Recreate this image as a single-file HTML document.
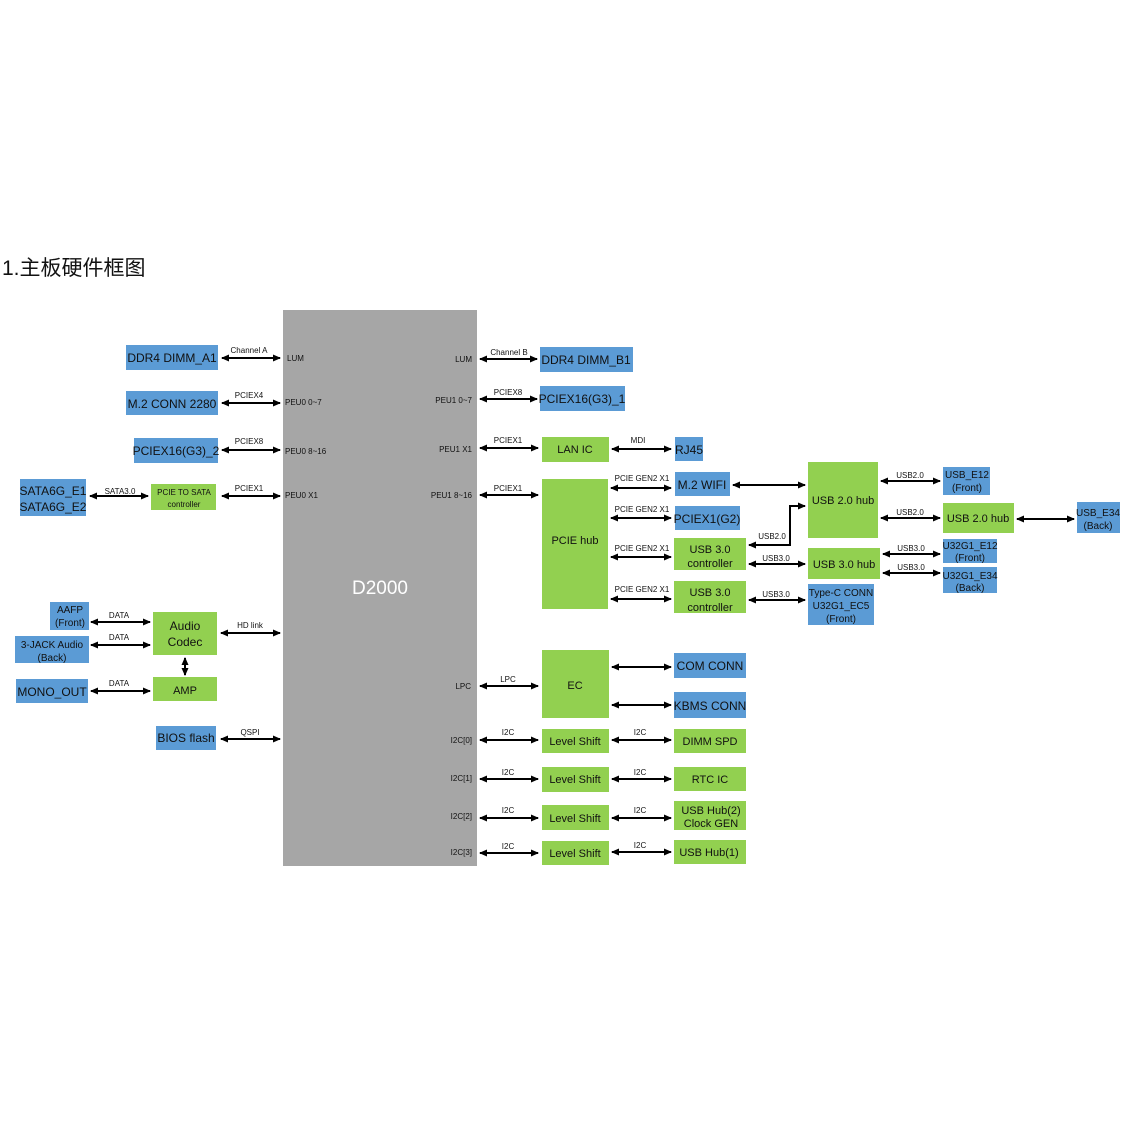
<!DOCTYPE html>
<html><head><meta charset="utf-8"><style>
html,body{margin:0;padding:0;background:#fff;width:1136px;height:1136px;overflow:hidden}
svg{display:block}
text{font-family:"Liberation Sans","Noto Sans CJK SC",sans-serif;fill:#111}
.b{fill:#5b9bd5}.g{fill:#92d050}
.l{stroke:#000;stroke-width:2;fill:none;marker-start:url(#ms);marker-end:url(#me)}
.s{font-size:8px}.m{font-size:12px}.t{font-size:11px}
</style></head><body>
<svg width="1136" height="1136" viewBox="0 0 1136 1136">
<defs>
<marker id="me" markerWidth="8" markerHeight="8" refX="7" refY="4" orient="auto" markerUnits="userSpaceOnUse"><path d="M0,0.5 L8,4 L0,7.5Z" fill="#000"/></marker>
<marker id="ms" markerWidth="8" markerHeight="8" refX="1" refY="4" orient="auto" markerUnits="userSpaceOnUse"><path d="M8,0.5 L0,4 L8,7.5Z" fill="#000"/></marker>
</defs>
<text x="2" y="275" style="font-size:21px">1.主板硬件框图</text>
<rect x="283" y="310" width="194" height="556" fill="#a6a6a6"/>
<text x="380" y="594" text-anchor="middle" style="font-size:19px;fill:#fff">D2000</text>
<g class="s">
<text x="287" y="361">LUM</text><text x="285" y="405">PEU0 0~7</text><text x="285" y="454">PEU0 8~16</text><text x="285" y="498">PEU0 X1</text>
<text x="472" y="362" text-anchor="end">LUM</text><text x="472" y="403" text-anchor="end">PEU1 0~7</text><text x="472" y="452" text-anchor="end">PEU1 X1</text><text x="472" y="498" text-anchor="end">PEU1 8~16</text>
<text x="471" y="689" text-anchor="end">LPC</text><text x="472" y="743" text-anchor="end">I2C[0]</text><text x="472" y="781" text-anchor="end">I2C[1]</text><text x="472" y="819" text-anchor="end">I2C[2]</text><text x="472" y="855" text-anchor="end">I2C[3]</text>
</g>
<!-- left boxes -->
<rect class="b" x="126" y="345" width="92" height="25"/><text class="m" x="172" y="362" text-anchor="middle">DDR4 DIMM_A1</text>
<rect class="b" x="126" y="391" width="92" height="24"/><text class="m" x="172" y="408" text-anchor="middle">M.2 CONN 2280</text>
<rect class="b" x="134" y="438" width="84" height="25"/><text class="m" x="176" y="455" text-anchor="middle">PCIEX16(G3)_2</text>
<rect class="b" x="20" y="479" width="66" height="37"/><text class="m" x="53" y="495" text-anchor="middle">SATA6G_E1</text><text class="m" x="53" y="511" text-anchor="middle">SATA6G_E2</text>
<rect class="g" x="151" y="484" width="65" height="26"/><text class="s" x="184" y="495" text-anchor="middle">PCIE TO SATA</text><text class="s" x="184" y="507" text-anchor="middle">controller</text>
<rect class="b" x="50" y="602" width="39" height="28"/><text class="t" x="70" y="613" text-anchor="middle" style="font-size:10px">AAFP</text><text x="70" y="626" text-anchor="middle" style="font-size:10px">(Front)</text>
<rect class="b" x="15" y="636" width="74" height="27"/><text x="52" y="648" text-anchor="middle" style="font-size:10px">3-JACK Audio</text><text x="52" y="661" text-anchor="middle" style="font-size:10px">(Back)</text>
<rect class="b" x="16" y="679" width="72" height="24"/><text class="m" x="52" y="696" text-anchor="middle">MONO_OUT</text>
<rect class="g" x="153" y="612" width="64" height="43"/><text class="m" x="185" y="630" text-anchor="middle">Audio</text><text class="m" x="185" y="646" text-anchor="middle">Codec</text>
<rect class="g" x="153" y="677" width="64" height="24"/><text class="t" x="185" y="694" text-anchor="middle">AMP</text>
<rect class="b" x="156" y="726" width="60" height="24"/><text class="m" x="186" y="742" text-anchor="middle">BIOS flash</text>
<!-- left arrows -->
<path class="l" d="M222,358 H280"/><text class="s" x="249" y="353" text-anchor="middle">Channel A</text>
<path class="l" d="M222,403 H280"/><text class="s" x="249" y="398" text-anchor="middle">PCIEX4</text>
<path class="l" d="M222,450 H280"/><text class="s" x="249" y="444" text-anchor="middle">PCIEX8</text>
<path class="l" d="M222,496 H280"/><text class="s" x="249" y="491" text-anchor="middle">PCIEX1</text>
<path class="l" d="M90,496 H148"/><text class="s" x="120" y="494" text-anchor="middle">SATA3.0</text>
<path class="l" d="M91,622 H150"/><text class="s" x="119" y="618" text-anchor="middle">DATA</text>
<path class="l" d="M91,645 H150"/><text class="s" x="119" y="640" text-anchor="middle">DATA</text>
<path class="l" d="M91,691 H150"/><text class="s" x="119" y="686" text-anchor="middle">DATA</text>
<path class="l" d="M185,658 V675"/>
<path class="l" d="M221,633 H280"/><text class="s" x="250" y="628" text-anchor="middle">HD link</text>
<path class="l" d="M221,739 H280"/><text class="s" x="250" y="735" text-anchor="middle">QSPI</text>
<!-- right of D2000 -->
<path class="l" d="M480,359 H537"/><text class="s" x="509" y="355" text-anchor="middle">Channel B</text>
<rect class="b" x="540" y="347" width="93" height="25"/><text class="m" x="586" y="364" text-anchor="middle">DDR4 DIMM_B1</text>
<path class="l" d="M480,399 H537"/><text class="s" x="508" y="395" text-anchor="middle">PCIEX8</text>
<rect class="b" x="540" y="386" width="85" height="25"/><text class="m" x="582" y="403" text-anchor="middle">PCIEX16(G3)_1</text>
<path class="l" d="M480,448 H538"/><text class="s" x="508" y="443" text-anchor="middle">PCIEX1</text>
<rect class="g" x="542" y="437" width="67" height="25"/><text class="t" x="575" y="453" text-anchor="middle">LAN IC</text>
<path class="l" d="M612,449 H671"/><text class="s" x="638" y="443" text-anchor="middle">MDI</text>
<rect class="b" x="675" y="437" width="28" height="24"/><text class="m" x="689" y="454" text-anchor="middle">RJ45</text>
<path class="l" d="M480,495 H538"/><text class="s" x="508" y="491" text-anchor="middle">PCIEX1</text>
<rect class="g" x="542" y="479" width="66" height="130"/><text class="t" x="575" y="544" text-anchor="middle">PCIE hub</text>
<g class="s">
<text x="642" y="481" text-anchor="middle">PCIE GEN2 X1</text><text x="642" y="512" text-anchor="middle">PCIE GEN2 X1</text>
<text x="642" y="551" text-anchor="middle">PCIE GEN2 X1</text><text x="642" y="592" text-anchor="middle">PCIE GEN2 X1</text>
</g>
<path class="l" d="M611,488 H671"/><path class="l" d="M611,518 H671"/><path class="l" d="M611,557 H671"/><path class="l" d="M611,599 H671"/>
<rect class="b" x="675" y="472" width="55" height="24"/><text class="m" x="702" y="489" text-anchor="middle">M.2 WIFI</text>
<rect class="b" x="675" y="506" width="65" height="24"/><text class="m" x="707" y="523" text-anchor="middle">PCIEX1(G2)</text>
<rect class="g" x="674" y="538" width="72" height="32"/><text class="t" x="710" y="553" text-anchor="middle">USB 3.0</text><text class="t" x="710" y="567" text-anchor="middle">controller</text>
<rect class="g" x="674" y="581" width="72" height="32"/><text class="t" x="710" y="596" text-anchor="middle">USB 3.0</text><text class="t" x="710" y="611" text-anchor="middle">controller</text>
<path class="l" d="M733,485 H805"/>
<path class="l" d="M749,545 H790 V506 H805"/><text class="s" x="772" y="539" text-anchor="middle">USB2.0</text>
<path class="l" d="M749,564 H805"/><text class="s" x="776" y="561" text-anchor="middle">USB3.0</text>
<path class="l" d="M749,600 H805"/><text class="s" x="776" y="597" text-anchor="middle">USB3.0</text>
<rect class="g" x="808" y="462" width="70" height="76"/><text class="t" x="843" y="504" text-anchor="middle">USB 2.0 hub</text>
<rect class="g" x="808" y="548" width="72" height="31"/><text class="t" x="844" y="568" text-anchor="middle">USB 3.0 hub</text>
<rect class="b" x="808" y="584" width="66" height="41"/><text x="841" y="596" text-anchor="middle" style="font-size:10px">Type-C CONN</text><text x="841" y="609" text-anchor="middle" style="font-size:10px">U32G1_EC5</text><text x="841" y="622" text-anchor="middle" style="font-size:10px">(Front)</text>
<path class="l" d="M881,481 H940"/><text class="s" x="910" y="478" text-anchor="middle">USB2.0</text>
<path class="l" d="M881,518 H940"/><text class="s" x="910" y="515" text-anchor="middle">USB2.0</text>
<path class="l" d="M883,554 H940"/><text class="s" x="911" y="551" text-anchor="middle">USB3.0</text>
<path class="l" d="M883,573 H940"/><text class="s" x="911" y="570" text-anchor="middle">USB3.0</text>
<rect class="b" x="943" y="467" width="47" height="28"/><text x="967" y="478" text-anchor="middle" style="font-size:10px">USB_E12</text><text x="967" y="491" text-anchor="middle" style="font-size:10px">(Front)</text>
<rect class="g" x="943" y="503" width="71" height="30"/><text class="t" x="978" y="522" text-anchor="middle">USB 2.0 hub</text>
<path class="l" d="M1017,519 H1074"/>
<rect class="b" x="1077" y="502" width="43" height="31"/><text x="1098" y="516" text-anchor="middle" style="font-size:10px">USB_E34</text><text x="1098" y="529" text-anchor="middle" style="font-size:10px">(Back)</text>
<rect class="b" x="943" y="539" width="54" height="24"/><text x="970" y="549" text-anchor="middle" style="font-size:10px">U32G1_E12</text><text x="970" y="561" text-anchor="middle" style="font-size:10px">(Front)</text>
<rect class="b" x="943" y="567" width="54" height="26"/><text x="970" y="579" text-anchor="middle" style="font-size:10px">U32G1_E34</text><text x="970" y="591" text-anchor="middle" style="font-size:10px">(Back)</text>
<!-- EC / I2C -->
<path class="l" d="M480,686 H538"/><text class="s" x="508" y="682" text-anchor="middle">LPC</text>
<rect class="g" x="542" y="650" width="67" height="68"/><text class="t" x="575" y="689" text-anchor="middle">EC</text>
<path class="l" d="M612,667 H671"/><path class="l" d="M612,705 H671"/>
<rect class="b" x="674" y="653" width="72" height="25"/><text class="m" x="710" y="670" text-anchor="middle">COM CONN</text>
<rect class="b" x="674" y="692" width="72" height="26"/><text class="m" x="710" y="710" text-anchor="middle">KBMS CONN</text>
<g>
<path class="l" d="M480,740 H538"/><text class="s" x="508" y="735" text-anchor="middle">I2C</text>
<rect class="g" x="542" y="729" width="67" height="24"/><text class="t" x="575" y="745" text-anchor="middle">Level Shift</text>
<path class="l" d="M612,740 H671"/><text class="s" x="640" y="735" text-anchor="middle">I2C</text>
<rect class="g" x="674" y="729" width="72" height="24"/><text class="t" x="710" y="745" text-anchor="middle">DIMM SPD</text>
<path class="l" d="M480,779 H538"/><text class="s" x="508" y="775" text-anchor="middle">I2C</text>
<rect class="g" x="542" y="767" width="67" height="25"/><text class="t" x="575" y="783" text-anchor="middle">Level Shift</text>
<path class="l" d="M612,779 H671"/><text class="s" x="640" y="775" text-anchor="middle">I2C</text>
<rect class="g" x="674" y="767" width="72" height="24"/><text class="t" x="710" y="783" text-anchor="middle">RTC IC</text>
<path class="l" d="M480,818 H538"/><text class="s" x="508" y="813" text-anchor="middle">I2C</text>
<rect class="g" x="542" y="805" width="67" height="25"/><text class="t" x="575" y="822" text-anchor="middle">Level Shift</text>
<path class="l" d="M612,818 H671"/><text class="s" x="640" y="813" text-anchor="middle">I2C</text>
<rect class="g" x="674" y="801" width="72" height="29"/><text class="t" x="711" y="814" text-anchor="middle">USB Hub(2)</text><text class="t" x="711" y="827" text-anchor="middle">Clock GEN</text>
<path class="l" d="M480,853 H538"/><text class="s" x="508" y="849" text-anchor="middle">I2C</text>
<rect class="g" x="542" y="841" width="67" height="24"/><text class="t" x="575" y="857" text-anchor="middle">Level Shift</text>
<path class="l" d="M612,852 H671"/><text class="s" x="640" y="848" text-anchor="middle">I2C</text>
<rect class="g" x="674" y="840" width="72" height="24"/><text class="t" x="709" y="856" text-anchor="middle">USB Hub(1)</text>
</g>
</svg>
</body></html>
